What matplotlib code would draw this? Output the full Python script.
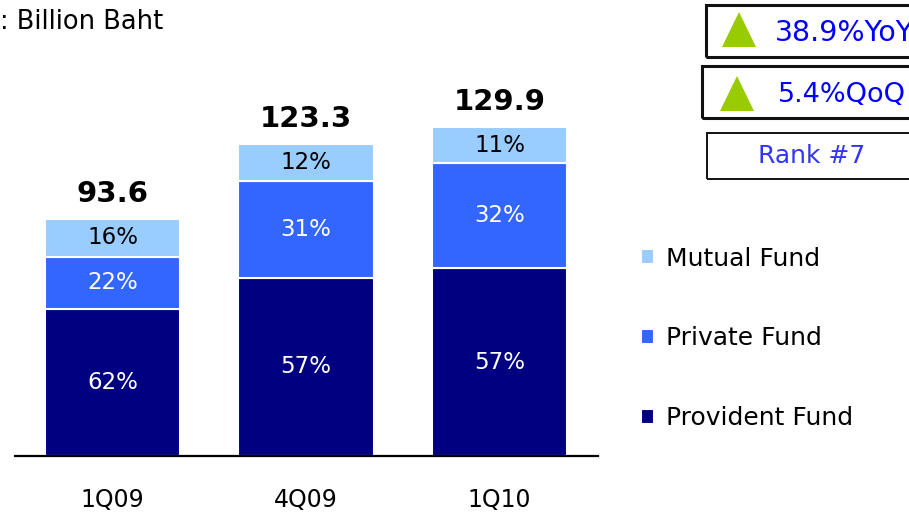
import matplotlib
matplotlib.use('Agg')
import matplotlib.pyplot as plt
from matplotlib.patches import Rectangle, Polygon

# AUM by fund type, billion baht
quarters = ['1Q09', '4Q09', '1Q10']
totals = [93.6, 123.3, 129.9]
provident_pct = [62, 57, 57]
private_pct = [22, 31, 32]
mutual_pct = [16, 12, 11]

series_names = ['Provident Fund', 'Private Fund', 'Mutual Fund']
series_colors = ['#000080', '#3366FF', '#99CCFF']
label_colors = ['white', 'white', 'black']

W, H = 909, 518
plt.rcParams['font.family'] = 'DejaVu Sans'


def fx(x):
    return x / W


def fy(y):
    return 1 - y / H


fig = plt.figure(figsize=(W / 100, H / 100), dpi=100)
ax = fig.add_axes([fx(15), fy(456), (598 - 15) / W, 456 / H])

x = list(range(len(quarters)))
bottoms = [0.0] * len(quarters)
handles = []
for pcts, name, color, tcolor in zip([provident_pct, private_pct, mutual_pct],
                                     series_names, series_colors, label_colors):
    heights = [t * p / 100 for t, p in zip(totals, pcts)]
    bars = ax.bar(x, heights, bottom=bottoms, width=0.698, color=color,
                  edgecolor='white', linewidth=1.5, label=name)
    handles.append(bars)
    for xi, b, h, p in zip(x, bottoms, heights, pcts):
        ax.text(xi, b + h / 2, f'{p}%', ha='center', va='center',
                fontsize=16.5, color=tcolor)
    bottoms = [b + h for b, h in zip(bottoms, heights)]

for xi, t in zip(x, totals):
    ax.annotate(f'{t:.1f}', (xi, t), xytext=(0, 8), textcoords='offset points',
                ha='center', va='bottom', fontsize=21, fontweight='bold')

ax.set_xlim(-0.504, 2.509)
ax.set_ylim(0, 180)
ax.set_yticks([])
ax.set_xticks(x)
ax.set_xticklabels(quarters, fontsize=17)
ax.tick_params(axis='x', length=0, pad=23)
for side in ['top', 'right', 'left']:
    ax.spines[side].set_visible(False)
ax.spines['bottom'].set_linewidth(1.6)
ax.patch.set_alpha(0)

fig.text(fx(0), fy(22), ': Billion Baht', fontsize=18.5, va='center', ha='left')

leg = fig.legend(handles[::-1], series_names[::-1], loc='upper left',
                 bbox_to_anchor=(fx(618), fy(224)), frameon=False, fontsize=18,
                 handlelength=0.55, handleheight=0.55, handletextpad=0.45,
                 labelspacing=2.23)

# growth / ranking boxes
boxes = [(706, 5, 260, 52, 2.2), (702, 66, 260, 52, 2.2), (707, 133, 260, 46, 1.4)]
for bx, by, bw, bh, lw in boxes:
    fig.add_artist(Rectangle((fx(bx), fy(by + bh)), bw / W, bh / H,
                             transform=fig.transFigure, fill=False,
                             edgecolor='#111111', linewidth=lw))

for tx, ty in [(722, 12), (720, 76)]:
    tri = [(fx(tx), fy(ty + 35)), (fx(tx + 34), fy(ty + 35)), (fx(tx + 17), fy(ty))]
    fig.add_artist(Polygon(tri, closed=True, transform=fig.transFigure,
                           facecolor='#99CC00', edgecolor='none'))

fig.text(fx(775), fy(33), '38.9%YoY', fontsize=20.5, color='#0000FF', va='center')
fig.text(fx(778), fy(95), '5.4%QoQ', fontsize=19.5, color='#0000FF', va='center')
fig.text(fx(812), fy(156), 'Rank #7', fontsize=18, color='#3333FF',
         va='center', ha='center')

fig.savefig('out.png', dpi=100)
